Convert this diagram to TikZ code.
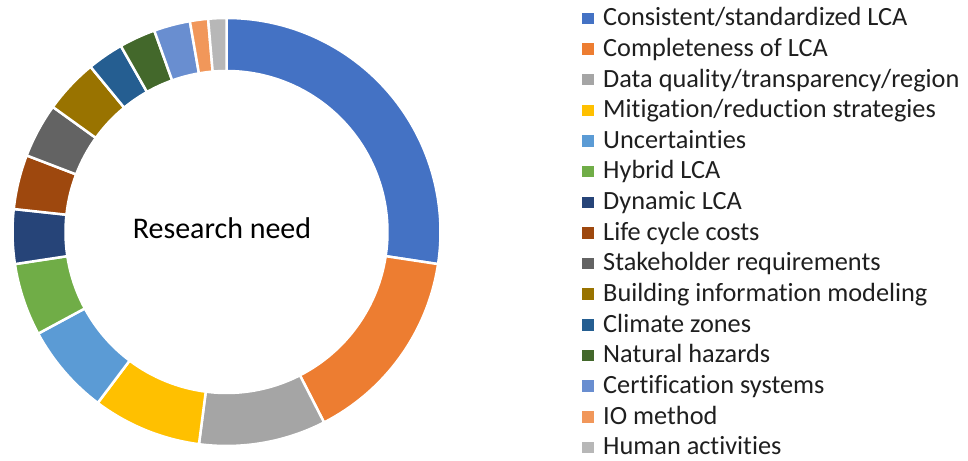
\documentclass[tikz,border=0pt]{standalone}
\usepackage{fontspec}
\setmainfont[Ligatures={NoCommon}]{Carlito}
\definecolor{c1}{HTML}{4472C4}
\definecolor{c2}{HTML}{ED7D31}
\definecolor{c3}{HTML}{A5A5A5}
\definecolor{c4}{HTML}{FFC000}
\definecolor{c5}{HTML}{5B9BD5}
\definecolor{c6}{HTML}{70AD47}
\definecolor{c7}{HTML}{264478}
\definecolor{c8}{HTML}{9E480E}
\definecolor{c9}{HTML}{636363}
\definecolor{c10}{HTML}{997300}
\definecolor{c11}{HTML}{255E91}
\definecolor{c12}{HTML}{43682B}
\definecolor{c13}{HTML}{698ED0}
\definecolor{c14}{HTML}{F1975A}
\definecolor{c15}{HTML}{B7B7B7}
\tikzset{
  slice/.style={draw=white, line width=2.5pt, line join=miter},
  legtext/.style={anchor=base west, inner sep=0pt, font=\fontsize{26.3}{30}\selectfont, text=black!88},
  legbox/.style={inner sep=0pt, minimum size=11.5pt},
}
\begin{document}
\begin{tikzpicture}[x=1pt,y=1pt]
\useasboundingbox[fill=white] (0,0) rectangle (968,460);
\coordinate (ctr) at (226.5,228);
\foreach \a/\b/\c in {0/20/c1,20/31/c2,31/38/c3,38/44/c4,44/49/c5,49/53/c6,53/56/c7,56/59/c8,59/62/c9,62/65/c10,65/67/c11,67/69/c12,69/71/c13,71/72/c14,72/73/c15}{
  \pgfmathsetmacro\sa{90-\a*4.931507}
  \pgfmathsetmacro\ea{90-\b*4.931507}
  \fill[\c, slice] ([shift={(\sa:214)}]ctr) arc[start angle=\sa, end angle=\ea, radius=214]
     -- ([shift={(\ea:161)}]ctr) arc[start angle=\ea, end angle=\sa, radius=161] -- cycle;
}
\node[anchor=base, inner sep=0pt, font=\fontsize{30}{36}\selectfont] (title) at (222,221) {Research need};
\foreach \i/\c/\t in {0/c1/{Consistent/standardized LCA},1/c2/{Completeness of LCA},2/c3/{Data quality/transparency/region},3/c4/{Mitigation/reduction strategies},4/c5/{Uncertainties},5/c6/{Hybrid LCA},6/c7/{Dynamic LCA},7/c8/{Life cycle costs},8/c9/{Stakeholder requirements},9/c10/{Building information modeling},10/c11/{Climate zones},11/c12/{Natural hazards},12/c13/{Certification systems},13/c14/{IO method},14/c15/{Human activities}}{
  \node[legbox, fill=\c] (box\i) at (587.75, {460-18.3-\i*30.66}) {};
  \node[legtext] (lab\i) at (603, {460-25.7-\i*30.66}) {\t};
}
\end{tikzpicture}
\end{document}
